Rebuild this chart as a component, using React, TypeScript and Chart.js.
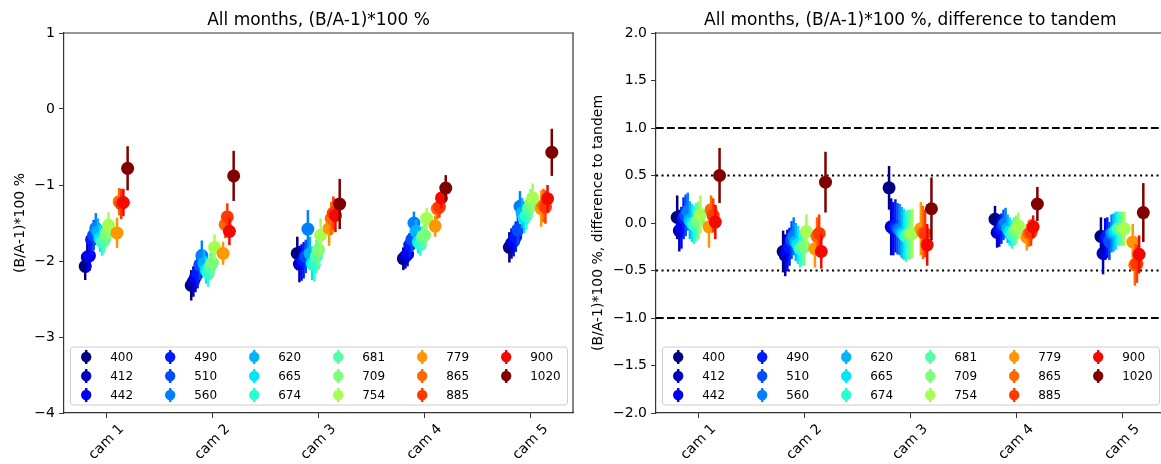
import React, { useEffect, useRef } from 'react';
import { Chart, registerables } from 'chart.js';

Chart.register(...registerables);

// ---------- data ----------
const cams = ['cam 1', 'cam 2', 'cam 3', 'cam 4', 'cam 5'];
const bands = ['400', '412', '442', '490', '510', '560', '620', '665', '674', '681', '709', '754', '779', '865', '885', '900', '1020'];
// slot of each band within the full 21-band grid (used for colour and in-group offset)
const bandSlot = [0, 1, 2, 3, 4, 5, 6, 7, 8, 9, 10, 11, 15, 16, 17, 18, 20];
const bandColors = ['#000080', '#0000b9', '#0000f3', '#001aff', '#004dff', '#0080ff', '#00b3ff', '#00e6f7', '#29ffce', '#52ffa4', '#7bff7b', '#a4ff52', '#ff9700', '#ff6800', '#ff3900', '#f30900', '#800000'];

// left panel: (B/A-1)*100 %, one array per camera (band order as above)
const absCam1 = [-2.07, -1.95, -1.93, -1.72, -1.66, -1.57, -1.62, -1.70, -1.75, -1.72, -1.64, -1.53, -1.63, -1.22, -1.25, -1.23, -0.78];
const absCam2 = [-2.32, -2.27, -2.21, -2.16, -2.05, -1.93, -2.03, -2.12, -2.16, -2.07, -2.02, -1.82, -1.90, -1.52, -1.42, -1.61, -0.88];
const absCam3 = [-1.90, -2.04, -2.02, -1.99, -1.94, -1.58, -1.90, -2.03, -2.05, -1.94, -1.85, -1.66, -1.57, -1.44, -1.37, -1.40, -1.25];
const absCam4 = [-1.97, -1.94, -1.91, -1.79, -1.72, -1.50, -1.61, -1.75, -1.78, -1.69, -1.66, -1.44, -1.54, -1.31, -1.29, -1.17, -1.04];
const absCam5 = [-1.82, -1.77, -1.74, -1.68, -1.59, -1.28, -1.37, -1.44, -1.40, -1.31, -1.24, -1.17, -1.31, -1.27, -1.29, -1.18, -0.57];
const absErr1 = [0.18, 0.2, 0.2, 0.2, 0.2, 0.2, 0.18, 0.18, 0.18, 0.17, 0.18, 0.17, 0.2, 0.18, 0.2, 0.18, 0.29];
const absErr2 = [0.2, 0.2, 0.2, 0.2, 0.2, 0.2, 0.18, 0.18, 0.18, 0.18, 0.18, 0.17, 0.15, 0.18, 0.18, 0.18, 0.33];
const absErr3 = [0.22, 0.24, 0.24, 0.24, 0.22, 0.25, 0.22, 0.22, 0.22, 0.22, 0.22, 0.22, 0.23, 0.22, 0.22, 0.22, 0.33];
const absErr4 = [0.15, 0.16, 0.16, 0.16, 0.16, 0.15, 0.15, 0.15, 0.15, 0.15, 0.15, 0.14, 0.14, 0.14, 0.14, 0.14, 0.17];
const absErr5 = [0.2, 0.2, 0.2, 0.2, 0.2, 0.2, 0.2, 0.19, 0.19, 0.19, 0.19, 0.19, 0.24, 0.22, 0.22, 0.18, 0.31];

// right panel: difference to tandem
const diffCam1 = [0.06, -0.08, -0.05, 0.05, 0.08, 0.12, 0.03, 0.00, -0.02, 0.01, 0.03, 0.09, -0.04, 0.14, 0.08, 0.01, 0.50];
const diffCam2 = [-0.30, -0.34, -0.29, -0.25, -0.18, -0.14, -0.20, -0.23, -0.27, -0.25, -0.25, -0.09, -0.27, -0.14, -0.11, -0.30, 0.43];
const diffCam3 = [0.37, -0.04, -0.06, -0.03, -0.06, -0.07, -0.10, -0.12, -0.14, -0.12, -0.12, -0.11, -0.06, -0.10, -0.11, -0.23, 0.15];
const diffCam4 = [0.04, -0.10, -0.09, -0.06, -0.02, 0.00, -0.06, -0.09, -0.12, -0.09, -0.07, -0.03, -0.15, -0.11, -0.10, -0.04, 0.20];
const diffCam5 = [-0.14, -0.32, -0.17, -0.14, -0.19, -0.11, -0.10, -0.08, -0.06, -0.06, -0.06, -0.06, -0.20, -0.44, -0.43, -0.33, 0.11];
const diffErr1 = [0.23, 0.22, 0.22, 0.22, 0.22, 0.2, 0.2, 0.2, 0.2, 0.2, 0.2, 0.2, 0.22, 0.15, 0.18, 0.18, 0.29];
const diffErr2 = [0.22, 0.22, 0.22, 0.2, 0.2, 0.2, 0.2, 0.2, 0.2, 0.2, 0.2, 0.18, 0.2, 0.2, 0.2, 0.18, 0.32];
const diffErr3 = [0.23, 0.3, 0.28, 0.28, 0.27, 0.27, 0.27, 0.27, 0.27, 0.26, 0.26, 0.26, 0.28, 0.28, 0.25, 0.22, 0.33];
const diffErr4 = [0.14, 0.16, 0.16, 0.16, 0.16, 0.16, 0.15, 0.15, 0.15, 0.15, 0.15, 0.14, 0.14, 0.14, 0.14, 0.12, 0.18];
const diffErr5 = [0.2, 0.22, 0.22, 0.2, 0.2, 0.2, 0.2, 0.2, 0.18, 0.18, 0.18, 0.18, 0.19, 0.22, 0.2, 0.2, 0.31];

const leftYTicks = [1, 0, -1, -2, -3, -4];
const rightYTicks = [2, 1.5, 1, 0.5, 0, -0.5, -1, -1.5, -2];
const refLinesRight = [
  { v: 1, style: 'dashed' },
  { v: -1, style: 'dashed' },
  { v: 0.5, style: 'dotted' },
  { v: -0.5, style: 'dotted' },
];

// ---------- helpers ----------
const FONT = "'DejaVu Sans', 'Liberation Sans', sans-serif";
const minus = (s: string) => s.replace('-', '\u2212');

function buildDatasets(means: number[][], errs: number[][]) {
  return bands.map((b, k) => ({
    label: b,
    data: cams.map((_, c) => ({
      x: c + (bandSlot[k] / 20 - 0.5) * 0.4,
      y: means[c][k],
      err: errs[c][k],
    })),
    backgroundColor: bandColors[k],
    borderColor: bandColors[k],
    pointRadius: 6.5,
    pointHoverRadius: 6.5,
    pointBorderWidth: 0,
    showLine: false,
    order: bands.length - k,
  }));
}

const errorBarPlugin = {
  id: 'errbars',
  beforeDatasetDraw(chart: any, args: any) {
    const ds = chart.data.datasets[args.index];
    const xs = chart.scales.x;
    const ys = chart.scales.y;
    const ctx = chart.ctx;
    ctx.save();
    ctx.strokeStyle = ds.borderColor;
    ctx.lineWidth = 2.5;
    for (const p of ds.data) {
      const x = xs.getPixelForValue(p.x);
      ctx.beginPath();
      ctx.moveTo(x, ys.getPixelForValue(p.y - p.err));
      ctx.lineTo(x, ys.getPixelForValue(p.y + p.err));
      ctx.stroke();
    }
    ctx.restore();
  },
};

function refLinePlugin(lines: { v: number; style: string }[]) {
  return {
    id: 'reflines',
    beforeDatasetsDraw(chart: any) {
      const { ctx, chartArea } = chart;
      const ys = chart.scales.y;
      ctx.save();
      ctx.strokeStyle = '#000';
      ctx.lineWidth = 2.1;
      for (const l of lines) {
        const y = ys.getPixelForValue(l.v);
        ctx.setLineDash(l.style === 'dashed' ? [7.7, 3.3] : [2.1, 3.4]);
        ctx.beginPath();
        ctx.moveTo(chartArea.left, y);
        ctx.lineTo(chartArea.right, y);
        ctx.stroke();
      }
      ctx.restore();
    },
  };
}

function framePlugin(drawRight: boolean) {
  return {
    id: 'frame',
    afterDatasetsDraw(chart: any) {
      const { ctx, chartArea } = chart;
      const { left, right, top, bottom } = chartArea;
      ctx.save();
      ctx.strokeStyle = '#333';
      ctx.lineWidth = 1.2;
      ctx.beginPath();
      ctx.moveTo(left, top);
      ctx.lineTo(right + 1, top);
      if (drawRight) {
        ctx.moveTo(right, top);
        ctx.lineTo(right, bottom);
      }
      ctx.stroke();
      ctx.restore();
    },
  };
}

function annotationPlugin(spec: any) {
  return {
    id: 'annot',
    afterDraw(chart: any) {
      const { ctx, chartArea } = chart;
      const xs = chart.scales.x;
      ctx.save();
      ctx.fillStyle = '#000';
      // title
      ctx.font = `17px ${FONT}`;
      ctx.textAlign = 'center';
      ctx.textBaseline = 'alphabetic';
      ctx.fillText(spec.title, (chartArea.left + chartArea.right) / 2, 25);
      // y title
      ctx.save();
      ctx.font = `14px ${FONT}`;
      ctx.translate(spec.yTitleX, (chartArea.top + chartArea.bottom) / 2);
      ctx.rotate(-Math.PI / 2);
      ctx.textAlign = 'center';
      ctx.textBaseline = 'middle';
      ctx.fillText(spec.yTitle, 0, 0);
      ctx.restore();
      // x tick labels, rotated 45 deg, centred under tick
      ctx.font = `14px ${FONT}`;
      for (const t of xs.ticks) {
        const label = cams[t.value];
        const w = ctx.measureText(label).width;
        const ext = (w + 14) * Math.SQRT1_2;
        const cx = xs.getPixelForValue(t.value);
        const cy = chartArea.bottom + 9 + ext / 2;
        ctx.save();
        ctx.translate(cx, cy);
        ctx.rotate(-Math.PI / 4);
        ctx.textAlign = 'center';
        ctx.textBaseline = 'middle';
        ctx.fillText(label, 0, 0);
        ctx.restore();
      }
      // legend
      const bx = chartArea.left + 6.5;
      const bw = 497;
      const bh = 58;
      const by = chartArea.bottom - 66;
      ctx.beginPath();
      ctx.roundRect(bx, by, bw, bh, 3);
      ctx.fillStyle = 'rgba(255,255,255,0.8)';
      ctx.fill();
      ctx.strokeStyle = '#cccccc';
      ctx.lineWidth = 1;
      ctx.stroke();
      ctx.font = `12px ${FONT}`;
      ctx.textAlign = 'left';
      ctx.textBaseline = 'middle';
      bands.forEach((b, i) => {
        const col = Math.floor(i / 3);
        const row = i % 3;
        const mx = bx + 15.7 + col * 84;
        const my = by + 10 + row * 19;
        ctx.strokeStyle = bandColors[i];
        ctx.lineWidth = 2.5;
        ctx.beginPath();
        ctx.moveTo(mx, my - 7);
        ctx.lineTo(mx, my + 7);
        ctx.stroke();
        ctx.fillStyle = bandColors[i];
        ctx.beginPath();
        ctx.arc(mx, my, 5.2, 0, Math.PI * 2);
        ctx.fill();
        ctx.fillStyle = '#000';
        ctx.fillText(b, mx + 24, my + 0.5);
      });
      ctx.restore();
    },
  };
}

function makeConfig(spec: any): any {
  const axisLine = { display: true, color: '#333', width: 1.2 };
  const tickGrid = { display: true, drawOnChartArea: false, drawTicks: true, tickLength: 5, color: '#333', lineWidth: 1 };
  const plugins: any[] = [errorBarPlugin, framePlugin(spec.drawRight), annotationPlugin(spec)];
  if (spec.refLines) plugins.unshift(refLinePlugin(spec.refLines));
  return {
    type: 'scatter',
    data: { datasets: buildDatasets(spec.means, spec.errs) },
    options: {
      animation: false,
      responsive: false,
      devicePixelRatio: 1,
      events: [],
      layout: { padding: { left: 0, top: 33, right: spec.padRight, bottom: 0 } },
      plugins: {
        legend: { display: false },
        title: { display: false },
        tooltip: { enabled: false },
      },
      scales: {
        x: {
          type: 'linear',
          position: 'bottom',
          min: -0.4,
          max: 4.4,
          afterBuildTicks: (s: any) => {
            s.ticks = cams.map((_, i) => ({ value: i }));
          },
          afterFit: (s: any) => {
            s.height = 51;
          },
          ticks: { display: false },
          grid: tickGrid,
          border: axisLine,
        },
        y: {
          type: 'linear',
          min: spec.yMin,
          max: spec.yMax,
          afterBuildTicks: (s: any) => {
            s.ticks = spec.yTicks.map((v: number) => ({ value: v }));
          },
          afterFit: (s: any) => {
            s.width = spec.yWidth;
          },
          ticks: {
            font: { family: FONT, size: 14 },
            color: '#000',
            padding: 4,
            callback: (v: number) => minus(spec.fmt(v)),
          },
          grid: tickGrid,
          border: axisLine,
        },
      },
    },
    plugins,
  };
}

const leftSpec = {
  means: [absCam1, absCam2, absCam3, absCam4, absCam5],
  errs: [absErr1, absErr2, absErr3, absErr4, absErr5],
  yMin: -4,
  yMax: 1,
  yTicks: leftYTicks,
  fmt: (v: number) => String(v),
  title: 'All months, (B/A-1)*100 %',
  yTitle: '(B/A-1)*100 %',
  yTitleX: 20,
  yWidth: 64,
  padRight: 27,
  drawRight: true,
};

const rightSpec = {
  means: [diffCam1, diffCam2, diffCam3, diffCam4, diffCam5],
  errs: [diffErr1, diffErr2, diffErr3, diffErr4, diffErr5],
  yMin: -2,
  yMax: 2,
  yTicks: rightYTicks,
  fmt: (v: number) => v.toFixed(1),
  title: 'All months, (B/A-1)*100 %, difference to tandem',
  yTitle: '(B/A-1)*100 %, difference to tandem',
  yTitleX: 18.5,
  yWidth: 76,
  padRight: 15.5,
  drawRight: false,
  refLines: refLinesRight,
};

export default function App() {
  const leftRef = useRef<HTMLCanvasElement>(null);
  const rightRef = useRef<HTMLCanvasElement>(null);
  useEffect(() => {
    const c1 = new Chart(leftRef.current as HTMLCanvasElement, makeConfig(leftSpec));
    const c2 = new Chart(rightRef.current as HTMLCanvasElement, makeConfig(rightSpec));
    return () => {
      c1.destroy();
      c2.destroy();
    };
  }, []);
  return (
    <div style={{ position: 'absolute', left: 0, top: 0, width: 1161, height: 464, overflow: 'hidden', background: '#fff' }}>
      <canvas ref={leftRef} width={600} height={464} style={{ position: 'absolute', left: 0, top: 0 }} />
      <canvas ref={rightRef} width={600} height={464} style={{ position: 'absolute', left: 580, top: 0 }} />
    </div>
  );
}
